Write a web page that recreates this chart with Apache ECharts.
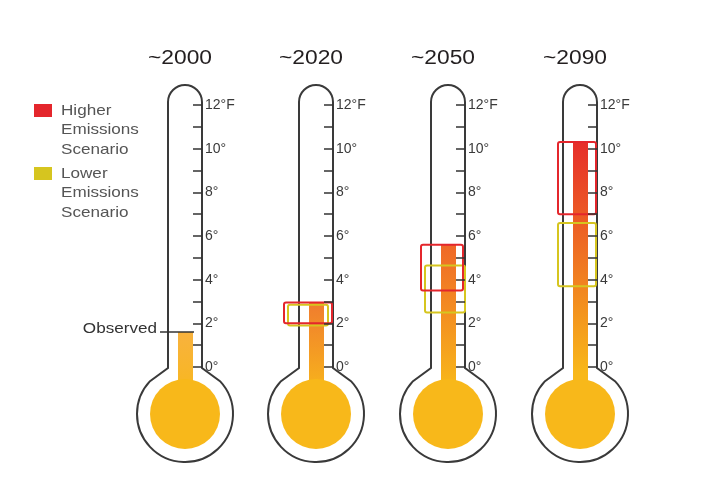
<!DOCTYPE html>
<html><head><meta charset="utf-8">
<script src="https://cdn.jsdelivr.net/npm/echarts@6/dist/echarts.min.js"></script>
<style>html,body{margin:0;padding:0;background:#fff}#c{width:710px;height:496px}</style>
</head><body><div id="c"></div>
<script>
// ---- data ----
const years = ['~2000', '~2020', '~2050', '~2090'];
const fillTop = [1.6, 2.95, 5.6, 10.3];
const higherLow = [null, 2.0, 3.5, 7.0];
const higherHigh = [null, 2.95, 5.6, 10.3];
const lowerLow = [null, 1.9, 2.5, 3.7];
const lowerHigh = [null, 2.85, 4.65, 6.6];
const observedValue = 1.6;
const tickLabels = ['0°', '', '2°', '', '4°', '', '6°', '', '8°', '', '10°', '', '12°F'];

// ---- layout / style ----
const centers = [185, 316, 448, 580];
const gridTop = 105, gridBottomY = 367;
const tubeR = 17, bulbR = 48, bulbFillR = 35;
const boxX = [null, {h: [-32, 16], l: [-28, 12]}, {h: [-27, 15], l: [-23, 17]}, {h: [-22, 16], l: [-22, 16]}];
const RED = '#E4262C', YEL = '#D6C51F', BULB = '#F8B81A', INK = '#333';
const topColors = ['#F8B23E', '#F07C2E', '#EF6828', '#E62E2A'];
const FONT = 'Liberation Sans';
const SX = 1.14;

const chart = echarts.init(document.getElementById('c'));
const grids = [], xAxes = [], yAxes = [], series = [], graphics = [];

centers.forEach((cx, i) => {
  grids.push({left: cx - tubeR, width: tubeR * 2, top: gridTop, height: gridBottomY - gridTop});
  xAxes.push({gridIndex: i, type: 'value', min: -1, max: 1, show: false, axisLine: {onZero: false}});
  yAxes.push({
    gridIndex: i, type: 'value', min: 0, max: 12, interval: 1, position: 'right', z: 10,
    axisLine: {show: false, onZero: false}, splitLine: {show: false},
    axisTick: {show: true, inside: true, length: 9, lineStyle: {color: INK, width: 1.5}},
    axisLabel: {margin: 3, color: '#3a3a3a', fontSize: 14, fontFamily: FONT,
      formatter: v => tickLabels[Math.round(v)] || ''}
  });
  graphics.push({type: 'text', x: cx - 5, y: 58, scaleX: SX, originX: 0, originY: 0,
    style: {text: years[i], align: 'center', verticalAlign: 'middle', fontFamily: FONT, fontSize: 20, fill: '#231F20'}});

  // thermometer body + fill
  series.push({
    type: 'custom', xAxisIndex: i, yAxisIndex: i, z: 2, silent: true,
    data: [[0, fillTop[i]]],
    renderItem: (params, api) => {
      const p0 = api.coord([0, 0]);
      const p12 = api.coord([0, 12]);
      const pt = api.coord([0, api.value(1)]);
      const x = p0[0], y0 = p0[1];
      const yt = p12[1] - 3, yb = y0 + 1;
      const bcy = y0 + 47;
      const fx = 35, fy = bcy - Math.sqrt(bulbR * bulbR - fx * fx);
      const path = `M ${x - tubeR} ${yb} L ${x - tubeR} ${yt} A ${tubeR} ${tubeR} 0 0 1 ${x + tubeR} ${yt} L ${x + tubeR} ${yb} L ${x + fx} ${fy} A ${bulbR} ${bulbR} 0 1 1 ${x - fx} ${fy} Z`;
      const children = [
        {type: 'path', shape: {pathData: path}, style: {fill: '#fff', stroke: '#3a3a3a', lineWidth: 2}},
        {type: 'rect', shape: {x: x - 7, y: pt[1], width: 15, height: bcy - pt[1]},
          style: {fill: new echarts.graphic.LinearGradient(0, 0, 0, 1, [
            {offset: 0, color: topColors[i]}, {offset: 0.85, color: BULB}, {offset: 1, color: BULB}])}},
        {type: 'circle', shape: {cx: x, cy: bcy, r: bulbFillR}, style: {fill: BULB}}
      ];
      if (i === 0) {
        const po = api.coord([0, observedValue]);
        children.push({type: 'line', shape: {x1: x - 25, y1: po[1], x2: x + 9, y2: po[1]}, style: {stroke: INK, lineWidth: 1.5}});
        children.push({type: 'text', x: x - 28, y: po[1] - 3, scaleX: SX,
          style: {text: 'Observed', x: 0, y: 0, align: 'right', verticalAlign: 'middle',
          fill: INK, fontSize: 15, fontFamily: FONT}});
      }
      return {type: 'group', children};
    }
  });

  if (higherLow[i] != null) {
    const mkBox = (name, lo, hi, color, xs) => ({
      type: 'custom', name, xAxisIndex: i, yAxisIndex: i, z: 3, silent: true,
      data: [[lo, hi]],
      renderItem: (params, api) => {
        const a = api.coord([0, api.value(0)]);
        const b = api.coord([0, api.value(1)]);
        return {type: 'rect', shape: {x: a[0] + xs[0], y: b[1], width: xs[1] - xs[0], height: a[1] - b[1], r: 2},
          style: {fill: 'none', stroke: color, lineWidth: 2}};
      }
    });
    series.push(mkBox('Lower Emissions Scenario', lowerLow[i], lowerHigh[i], YEL, boxX[i].l));
    series.push(mkBox('Higher Emissions Scenario', higherLow[i], higherHigh[i], RED, boxX[i].h));
  }
});

const legendText = {fontFamily: FONT, fontSize: 15, fill: '#555', lineHeight: 19.5};
graphics.push(
  {type: 'rect', left: 34, top: 104, shape: {width: 18, height: 13}, style: {fill: RED}},
  {type: 'text', x: 61, y: 101, scaleX: SX, style: Object.assign({text: 'Higher\nEmissions\nScenario'}, legendText)},
  {type: 'rect', left: 34, top: 167, shape: {width: 18, height: 13}, style: {fill: YEL}},
  {type: 'text', x: 61, y: 164, scaleX: SX, style: Object.assign({text: 'Lower\nEmissions\nScenario'}, legendText)}
);

chart.setOption({
  backgroundColor: '#fff',
  animation: false,
  grid: grids, xAxis: xAxes, yAxis: yAxes, series,
  graphic: graphics
});
</script></body></html>
